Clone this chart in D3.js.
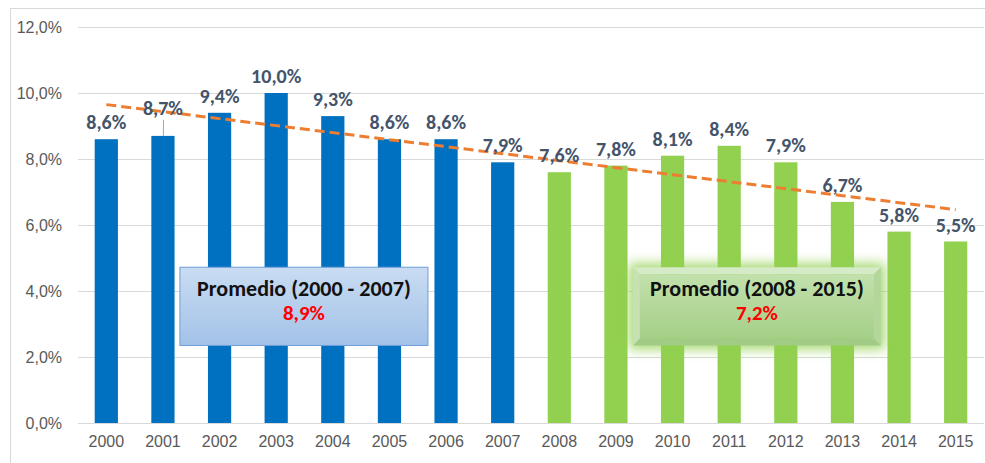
<!DOCTYPE html>
<html>
<head>
<meta charset="utf-8">
<script src="https://cdn.jsdelivr.net/npm/d3@7"></script>
<style>
  body { margin: 0; background: #fff; }
  svg { font-family: Calibri, Carlito, "Liberation Sans", Arial, sans-serif; }
</style>
</head>
<body>
<div id="chart"></div>
<script>
const years = ['2000','2001','2002','2003','2004','2005','2006','2007',
               '2008','2009','2010','2011','2012','2013','2014','2015'];
const rates = [8.6, 8.7, 9.4, 10.0, 9.3, 8.6, 8.6, 7.9,
               7.6, 7.8, 8.1, 8.4, 7.9, 6.7, 5.8, 5.5];
const yTicks = [0, 2, 4, 6, 8, 10, 12];
const periodA = { title: 'Promedio (2000 - 2007)', value: '8,9%', from: '2000' };
const periodB = { title: 'Promedio (2008 - 2015)', value: '7,2%', from: '2008' };

const width = 985, height = 463;
const margin = { left: 78, right: 1, top: 27, bottom: 40 };
const fmt = v => d3.format('.1f')(v).replace('.', ',') + '%';

const svg = d3.select('#chart').append('svg')
    .attr('width', width).attr('height', height);

const defs = svg.append('defs');
const gBlue = defs.append('linearGradient').attr('id', 'gBlue')
    .attr('x1', 0).attr('y1', 0).attr('x2', 0).attr('y2', 1);
gBlue.append('stop').attr('offset', '0%').attr('stop-color', '#c9dcf2');
gBlue.append('stop').attr('offset', '100%').attr('stop-color', '#a3c2e8');
const gGreen = defs.append('linearGradient').attr('id', 'gGreen')
    .attr('x1', 0).attr('y1', 0).attr('x2', 0).attr('y2', 1);
gGreen.append('stop').attr('offset', '0%').attr('stop-color', '#c2e1ad');
gGreen.append('stop').attr('offset', '100%').attr('stop-color', '#a5cf88');
const glow = defs.append('filter').attr('id', 'glow')
    .attr('x', '-20%').attr('y', '-40%').attr('width', '140%').attr('height', '180%');
glow.append('feGaussianBlur').attr('stdDeviation', 6);

// chart frame
svg.append('rect').attr('x', 10.5).attr('y', 8.5)
    .attr('width', width - 8).attr('height', height + 4)
    .attr('fill', 'none').attr('stroke', '#d9d9d9');

const x = d3.scaleBand().domain(years)
    .range([margin.left, width - margin.right])
    .paddingInner(0.59).paddingOuter(0.295);
const y = d3.scaleLinear().domain([0, 12])
    .range([height - margin.bottom, margin.top]);

// gridlines
svg.append('g').selectAll('line').data(yTicks).enter().append('line')
    .attr('x1', margin.left).attr('x2', width - margin.right)
    .attr('y1', d => Math.round(y(d)) + 0.5).attr('y2', d => Math.round(y(d)) + 0.5)
    .attr('stroke', '#d9d9d9');

// y axis
const yAxis = d3.axisLeft(y).tickValues(yTicks).tickFormat(fmt).tickSize(0).tickPadding(16);
svg.append('g').attr('transform', `translate(${margin.left},0)`).call(yAxis)
    .call(g => g.select('.domain').remove())
    .selectAll('text').attr('fill', '#595959').attr('font-size', 16);

// x axis
const xAxis = d3.axisBottom(x).tickSize(0).tickPadding(13);
svg.append('g').attr('transform', `translate(0,${y(0)})`).call(xAxis)
    .call(g => g.select('.domain').remove())
    .selectAll('text').attr('fill', '#595959').attr('font-size', 16);

// bars
const isFirst = i => i < 8;
svg.append('g').selectAll('rect').data(rates).enter().append('rect')
    .attr('x', (d, i) => x(years[i]))
    .attr('y', d => y(d))
    .attr('width', x.bandwidth())
    .attr('height', d => y(0) - y(d))
    .attr('fill', (d, i) => isFirst(i) ? '#0070c0' : '#92d050');

// trend line (linear regression on the series)
const n = rates.length;
const xm = d3.mean(d3.range(n)), ym = d3.mean(rates);
const slope = d3.sum(rates, (v, i) => (i - xm) * (v - ym)) / d3.sum(d3.range(n), i => (i - xm) ** 2);
const trend = d3.range(n).map(i => ym + slope * (i - xm));
const cx = i => x(years[i]) + x.bandwidth() / 2;
svg.append('path')
    .datum(trend)
    .attr('d', d3.line().x((d, i) => cx(i)).y(d => y(d)))
    .attr('fill', 'none').attr('stroke', '#ed7d31')
    .attr('stroke-width', 3).attr('stroke-dasharray', '10,5');

// data labels
const labelLift = i => (i === 1 ? 21 : 10);
svg.append('g').selectAll('line').data(rates.filter((d, i) => i === 1)).enter().append('line')
    .attr('x1', cx(1) + 0.5).attr('x2', cx(1) + 0.5)
    .attr('y1', d => y(d) - 16).attr('y2', d => y(d))
    .attr('stroke', '#a6a6a6');
svg.append('g').selectAll('text').data(rates).enter().append('text')
    .attr('x', (d, i) => cx(i))
    .attr('y', (d, i) => y(d) - labelLift(i))
    .attr('text-anchor', 'middle')
    .attr('font-size', 20).attr('font-weight', 'bold').attr('fill', '#44546a')
    .text(d => fmt(d));

// average boxes
function avgBox(p, fill, stroke, bevel) {
  const i0 = years.indexOf(p.from);
  const bx = cx(i0) + x.step() * 1.3;
  const bw = x.step() * 4.38;
  const by = y(4.72), bh = y(2.35) - y(4.72);
  const g = svg.append('g');
  if (bevel) {
    g.append('rect').attr('x', bx - 4).attr('y', by - 4)
      .attr('width', bw + 8).attr('height', bh + 8)
      .attr('fill', '#92d050').attr('opacity', 0.8).attr('filter', 'url(#glow)');
    const b = 7, x1 = bx + bw, y1 = by + bh;
    const sides = [
      [[bx, by], [x1, by], [x1 - b, by + b], [bx + b, by + b], '#d5eac6'],
      [[bx, by], [bx + b, by + b], [bx + b, y1 - b], [bx, y1], '#c6e2b2'],
      [[x1, by], [x1, y1], [x1 - b, y1 - b], [x1 - b, by + b], '#b3d79a'],
      [[bx, y1], [bx + b, y1 - b], [x1 - b, y1 - b], [x1, y1], '#a2cb85']
    ];
    g.selectAll('polygon').data(sides).enter().append('polygon')
      .attr('points', d => d.slice(0, 4).map(q => q.join(',')).join(' '))
      .attr('fill', d => d[4]);
    g.append('rect').attr('x', bx + b).attr('y', by + b)
      .attr('width', bw - 2 * b).attr('height', bh - 2 * b).attr('fill', fill);
  } else {
    g.append('rect').attr('x', bx).attr('y', by).attr('width', bw).attr('height', bh)
      .attr('fill', fill).attr('stroke', stroke).attr('stroke-width', 1);
  }
  g.append('text').attr('x', bx + bw / 2).attr('y', by + 29)
    .attr('text-anchor', 'middle').attr('font-size', 22).attr('font-weight', 'bold')
    .attr('fill', '#111').text(p.title);
  g.append('text').attr('x', bx + bw / 2).attr('y', by + 53)
    .attr('text-anchor', 'middle').attr('font-size', 21).attr('font-weight', 'bold')
    .attr('fill', '#ff0000').text(p.value);
}
avgBox(periodA, 'url(#gBlue)', '#6d9eda', false);
avgBox(periodB, 'url(#gGreen)', null, true);
</script>
</body>
</html>
